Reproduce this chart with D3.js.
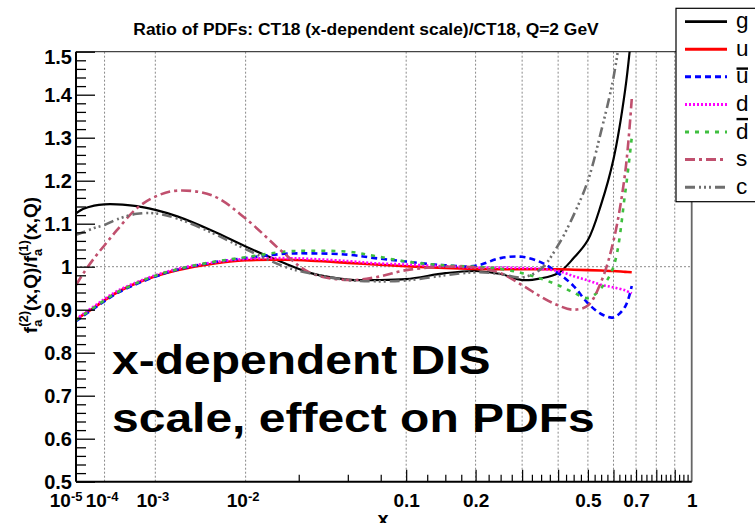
<!DOCTYPE html>
<html><head><meta charset="utf-8">
<script src="https://cdn.jsdelivr.net/npm/d3@7"></script>
<style>
body{margin:0;background:#fff}
svg{display:block}
text{font-family:"Liberation Sans",Arial,Helvetica,sans-serif}
</style>
</head><body>
<svg id="c" width="755" height="523"></svg>
<script>
// ---------------- data ----------------
const categories = ["g","u","ubar","d","dbar","s","c"];
const legendLabels = ["g","u","u","d","d","s","c"];
const legendOverbar = [false,false,true,false,true,false,false];
const xValues = [1e-5,2e-5,5e-5,1e-4,2e-4,5e-4,1e-3,2e-3,5e-3,1e-2,2e-2,3e-2,5e-2,7e-2,0.1,0.15,0.2,0.25,0.3,0.35,0.4,0.45,0.5,0.55,0.6,0.65,0.68];
const gValues    = [1.124,1.134,1.142,1.145,1.145,1.141,1.132,1.117,1.083,1.047,1.008,0.985,0.970,0.969,0.971,0.985,0.990,0.983,0.969,0.973,0.985,1.020,1.062,1.145,1.250,1.410,1.550];
const uValues    = [0.876,0.888,0.905,0.922,0.940,0.962,0.978,0.992,1.007,1.015,1.016,1.014,1.009,1.005,1.001,0.997,0.995,0.994,0.994,0.994,0.994,0.993,0.992,0.991,0.990,0.988,0.987];
const ubarValues = [0.873,0.885,0.903,0.920,0.938,0.960,0.977,0.993,1.010,1.020,1.030,1.031,1.028,1.020,1.012,1.003,1.002,1.020,1.023,1.010,0.985,0.955,0.915,0.890,0.882,0.907,0.955];
const dValues    = [0.878,0.890,0.908,0.925,0.943,0.964,0.980,0.995,1.010,1.018,1.020,1.018,1.013,1.008,1.005,1.001,0.998,0.998,0.997,0.995,0.990,0.978,0.968,0.958,0.952,0.945,0.938];
const dbarValues = [0.875,0.887,0.905,0.922,0.940,0.962,0.979,0.994,1.011,1.022,1.035,1.037,1.035,1.025,1.012,1.003,1.000,0.995,0.985,0.972,0.957,0.940,0.927,0.950,1.000,1.170,1.300];
const sValues    = [0.957,0.983,1.020,1.050,1.085,1.136,1.163,1.177,1.165,1.112,1.030,0.985,0.969,0.975,0.992,1.000,0.998,0.985,0.957,0.930,0.910,0.900,0.910,0.965,1.060,1.217,1.390];
const cValues    = [1.074,1.080,1.090,1.097,1.110,1.123,1.124,1.112,1.078,1.041,1.000,0.984,0.969,0.966,0.968,0.980,0.987,0.983,0.975,0.995,1.050,1.120,1.200,1.315,1.440,1.620];

const xLabelTicks = [1e-5,1e-4,1e-3,1e-2,0.1,0.2,0.5,0.7,1];
const xLabelBase  = ["10","10","10","10","0.1","0.2","0.5","0.7","1"];
const xLabelExp   = ["-5","-4","-3","-2","","","","",""];
const xGridValues = [1e-4,1e-3,1e-2,0.1,0.2,0.3,0.4,0.5,0.6,0.7,0.8,0.9];
const xMajorTicks = [0.1,0.2,0.3,0.4,0.5,0.6,0.7,0.8,0.9];
const xMinorTicks = [0.025,0.05,0.075,0.125,0.15,0.175,0.225,0.25,0.275,0.325,0.35,0.375,0.425,0.45,0.475,0.525,0.55,0.575,0.625,0.65,0.675,0.725,0.75,0.775,0.825,0.85,0.875,0.925,0.95,0.975];
const yMajorTicks = [0.5,0.6,0.7,0.8,0.9,1.0,1.1,1.2,1.3,1.4,1.5];
const yTickLabels = ["0.5","0.6","0.7","0.8","0.9","1","1.1","1.2","1.3","1.4","1.5"];
const yMinorTicks = [0.52,0.54,0.56,0.58,0.62,0.64,0.66,0.68,0.72,0.74,0.76,0.78,0.82,0.84,0.86,0.88,0.92,0.94,0.96,0.98,1.02,1.04,1.06,1.08,1.12,1.14,1.16,1.18,1.22,1.24,1.26,1.28,1.32,1.34,1.36,1.38,1.42,1.44,1.46,1.48];

const titleText = "Ratio of PDFs: CT18 (x-dependent scale)/CT18, Q=2 GeV";
const noteLines = ["x-dependent DIS","scale, effect on PDFs"];

// ---------------- styles ----------------
const seriesValues = [gValues,uValues,ubarValues,dValues,dbarValues,sValues,cValues];
const colors = ["#000000","#ff0000","#0000ff","#ff00ff","#3fbf3f","#c0506e","#6e6e6e"];
const dashes = [null,null,"6,4","2,2","4,6","10,4,3,4","10,4,2,3,2,3,2,4"];
const widths = [2.2,2.6,2.6,2.6,2.6,2.6,2.6];
const FONT = '"Liberation Sans",Arial,Helvetica,sans-serif';

// ---------------- layout ----------------
const L = 76, R = 691.7, T = 51.7, B = 481.7;
const svg = d3.select("#c");
const x = d3.scalePow().exponent(0.25).domain([1e-5,1]).range([L,R]);
const y = d3.scaleLinear().domain([0.5,1.5]).range([B,T]);

// title
svg.append("text").attr("x",366).attr("y",34.5).attr("text-anchor","middle")
  .attr("font-size",17.4).attr("font-weight","bold").text(titleText);

// grid
svg.append("g").selectAll("line").data(xGridValues).join("line")
  .attr("x1",d=>x(d)).attr("x2",d=>x(d)).attr("y1",T).attr("y2",B)
  .attr("stroke","#8a8a8a").attr("stroke-width",1).attr("stroke-dasharray","2,2");
svg.append("line").attr("x1",L).attr("x2",R).attr("y1",y(1)).attr("y2",y(1))
  .attr("stroke","#8a8a8a").attr("stroke-width",1).attr("stroke-dasharray","2,2");

// frame (top / right)
svg.append("line").attr("x1",L).attr("x2",R).attr("y1",T).attr("y2",T).attr("stroke","#444").attr("stroke-width",1.2);
svg.append("line").attr("x1",R).attr("x2",R).attr("y1",T).attr("y2",B).attr("stroke","#666").attr("stroke-width",1.8);

// curves
svg.append("clipPath").attr("id","pc").append("rect")
  .attr("x",L).attr("y",T).attr("width",R-L).attr("height",B-T);
const line = d3.line().x(d=>x(d[0])).y(d=>y(d[1])).curve(d3.curveCatmullRom.alpha(0.5));
const curves = svg.append("g").attr("clip-path","url(#pc)");
seriesValues.forEach((vals,i)=>{
  const pts = vals.map((v,j)=>[xValues[j],v]);
  curves.append("path").datum(pts).attr("d",line).attr("fill","none")
    .attr("stroke",colors[i]).attr("stroke-width",widths[i])
    .attr("stroke-dasharray",dashes[i]);
});

// x axis
const gxMinor = svg.append("g").attr("transform",`translate(0,${B})`)
  .call(d3.axisBottom(x).tickValues(xMinorTicks).tickSizeInner(-7).tickSizeOuter(0).tickFormat(""));
const gxMajor = svg.append("g").attr("transform",`translate(0,${B})`)
  .call(d3.axisBottom(x).tickValues(xMajorTicks).tickSizeInner(-12).tickSizeOuter(0).tickFormat(""));
const gxLab = svg.append("g").attr("transform",`translate(0,${B})`)
  .call(d3.axisBottom(x).tickValues(xLabelTicks).tickSize(0).tickPadding(12).tickFormat((d,i)=>xLabelBase[i]));
[gxMinor,gxMajor,gxLab].forEach(g=>{g.selectAll(".domain").remove(); g.selectAll("line").attr("stroke","#000").attr("stroke-width",1.2);});
gxLab.selectAll("text").attr("font-family",FONT).attr("font-size",19).attr("font-weight","bold").attr("fill","#000")
  .each(function(d,i){
    if(xLabelExp[i]){
      const t=d3.select(this);
      t.append("tspan").attr("dy","-0.45em").attr("font-size",13).text(xLabelExp[i]);
      if(i===0){ t.attr("text-anchor","end").attr("dx",6); } else { t.attr("dx",-3); }
    }
  });
svg.append("line").attr("x1",L).attr("x2",R).attr("y1",B).attr("y2",B).attr("stroke","#000").attr("stroke-width",2);
svg.append("text").attr("x",383).attr("y",526).attr("text-anchor","middle")
  .attr("font-size",20).attr("font-weight","bold").text("x");

// y axis
const gyMinor = svg.append("g").attr("transform",`translate(${L},0)`)
  .call(d3.axisLeft(y).tickValues(yMinorTicks).tickSizeInner(-10).tickSizeOuter(0).tickFormat(""));
const gyMajor = svg.append("g").attr("transform",`translate(${L},0)`)
  .call(d3.axisLeft(y).tickValues(yMajorTicks).tickSizeInner(-19).tickSizeOuter(0).tickPadding(4).tickFormat((d,i)=>yTickLabels[i]));
[gyMinor,gyMajor].forEach(g=>{g.selectAll(".domain").remove(); g.selectAll("line").attr("stroke","#000").attr("stroke-width",1.3);});
gyMajor.selectAll("text").attr("font-family",FONT).attr("font-size",20).attr("font-weight","bold").attr("fill","#000")
  .attr("dy","0.36em")
  .attr("transform",d=> d===1.5 ? "translate(0,4.5)" : null);
svg.append("line").attr("x1",L).attr("x2",L).attr("y1",T).attr("y2",B).attr("stroke","#000").attr("stroke-width",2);

// y title (rotated, with stacked sub/superscripts)
(function(){
  const g = svg.append("g").attr("transform","translate(37,265) rotate(-90)");
  const inner = g.append("g").attr("font-weight","bold");
  const main = 19, small = 13;
  let cx = 0;
  function piece(txt, size, dy){
    const t = inner.append("text").attr("x",cx).attr("y",dy).attr("font-size",size).text(txt);
    return t.node().getComputedTextLength();
  }
  function add(txt){ cx += piece(txt, main, 0); }
  function stack(sup, sub){
    const w1 = piece(sup, small, -9);
    const w2 = piece(sub, small, 5);
    cx += Math.max(w1,w2);
  }
  add("f"); stack("(2)","a"); add("(x,Q)/f"); stack("(1)","a"); add("(x,Q)");
  inner.attr("transform",`translate(${-cx/2},0)`);
})();

// annotation
const note = svg.append("g").attr("transform","translate(112,0) scale(1.2,1)");
noteLines.forEach((t,i)=>{
  note.append("text").attr("x",0).attr("y",374+i*57.7).attr("font-size",40)
    .attr("font-weight","bold").attr("fill","#000").text(t);
});

// legend
const lg = svg.append("g");
lg.append("rect").attr("x",676).attr("y",8.3).attr("width",95).attr("height",193.4)
  .attr("fill","#fff").attr("stroke","#000").attr("stroke-width",1.2);
categories.forEach((c,i)=>{
  const yy = 21.6 + i*27.6;
  lg.append("line").attr("x1",685).attr("x2",727).attr("y1",yy).attr("y2",yy)
    .attr("stroke",colors[i]).attr("stroke-width",widths[i]+0.4).attr("stroke-dasharray",dashes[i]);
  const t = lg.append("text").attr("x",736).attr("y",yy+6.5).attr("font-size",22.5).attr("fill","#000").text(legendLabels[i]);
  if(legendOverbar[i]){
    const w = t.node().getComputedTextLength();
    const asc = legendLabels[i]==="d" ? 0.73 : 0.52;
    const by = yy+6.5 - asc*22.5 - 3;
    lg.append("line").attr("x1",736.5).attr("x2",736+w-0.5).attr("y1",by).attr("y2",by)
      .attr("stroke","#000").attr("stroke-width",2.4);
  }
});
</script>
</body></html>
